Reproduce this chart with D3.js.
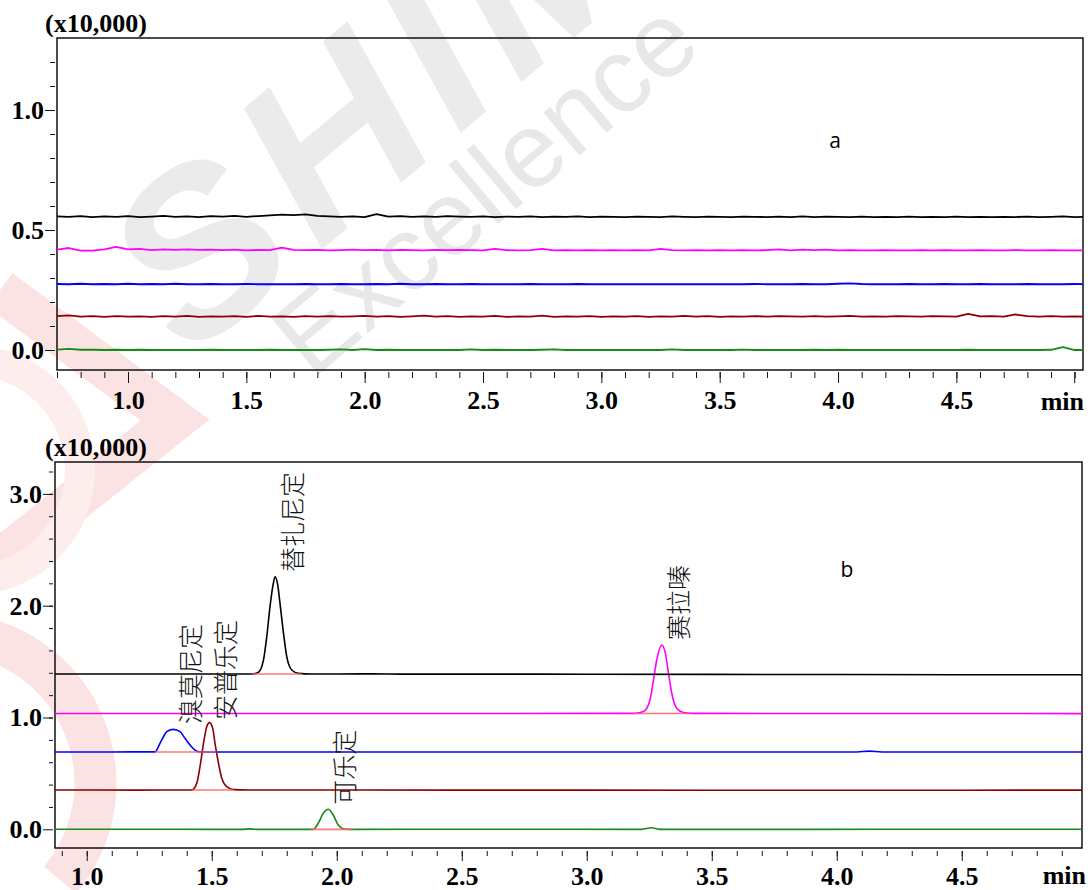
<!DOCTYPE html>
<html>
<head>
<meta charset="utf-8">
<script src="https://cdn.jsdelivr.net/npm/d3@7"></script>
<style>
  body { margin: 0; background: #fff; }
  svg { display: block; }
</style>
</head>
<body>
<svg id="chart" width="1090" height="890"></svg>
<script>
const svg = d3.select("#chart");

// ---- data (intensity in x10,000, time in min) ----
// colours from bottom trace to top trace
const traceColors = ["#178a17", "#8b0000", "#0000ff", "#ff00ff", "#000000"];

// panel a: blank runs, read every 0.05 min
const timesA = [0.70,0.75,0.80,0.85,0.90,0.95,1.00,1.05,1.10,1.15,
  1.20,1.25,1.30,1.35,1.40,1.45,1.50,1.55,1.60,1.65,
  1.70,1.75,1.80,1.85,1.90,1.95,2.00,2.05,2.10,2.15,
  2.20,2.25,2.30,2.35,2.40,2.45,2.50,2.55,2.60,2.65,
  2.70,2.75,2.80,2.85,2.90,2.95,3.00,3.05,3.10,3.15,
  3.20,3.25,3.30,3.35,3.40,3.45,3.50,3.55,3.60,3.65,
  3.70,3.75,3.80,3.85,3.90,3.95,4.00,4.05,4.10,4.15,
  4.20,4.25,4.30,4.35,4.40,4.45,4.50,4.55,4.60,4.65,
  4.70,4.75,4.80,4.85,4.90,4.95,5.00,5.05];

const greenA = [.002,.005,.001,.001,.000,.001,.000,.001,.000,.000,
  .000,.000,.000,.001,.000,.000,.000,.000,.001,.000,
  .000,.000,.000,.001,.003,.000,.004,.000,.001,.000,
  .000,.000,.000,.000,.000,.003,.000,.001,.000,.000,
  .000,.001,.003,.000,.000,.000,.000,.000,.000,.000,
  .000,.000,.003,.000,.000,.000,.000,.000,.002,.000,
  .000,.000,.000,.000,.001,.000,.001,.000,.000,.000,
  .000,.000,.000,.000,.000,.000,.000,.001,.000,.000,
  .000,.000,.000,.000,.001,.012,.000,.000];

const darkRedA = [.141,.144,.139,.141,.138,.141,.139,.140,.138,.141,
  .139,.142,.138,.140,.139,.141,.138,.142,.139,.140,
  .138,.141,.139,.141,.139,.140,.142,.139,.141,.138,
  .140,.143,.139,.141,.138,.140,.139,.142,.138,.140,
  .139,.143,.138,.140,.139,.141,.138,.140,.139,.141,
  .138,.140,.139,.142,.139,.141,.138,.140,.139,.141,
  .139,.141,.140,.139,.141,.139,.140,.142,.139,.140,
  .139,.141,.140,.139,.141,.140,.139,.151,.140,.141,
  .139,.148,.141,.139,.141,.139,.140,.139];

const blueA = [.275,.274,.276,.274,.275,.274,.276,.274,.275,.274,
  .276,.274,.274,.275,.274,.274,.275,.274,.274,.274,
  .274,.275,.274,.274,.275,.274,.274,.275,.274,.276,
  .274,.274,.275,.274,.274,.275,.274,.274,.274,.274,
  .275,.274,.274,.274,.275,.274,.274,.274,.274,.274,
  .274,.274,.274,.274,.274,.274,.274,.274,.274,.275,
  .274,.274,.274,.275,.274,.274,.276,.278,.275,.274,
  .274,.274,.275,.274,.274,.275,.274,.274,.275,.274,
  .274,.274,.275,.274,.274,.274,.275,.274];

const magentaA = [.418,.425,.414,.414,.419,.430,.419,.421,.416,.419,
  .417,.419,.417,.418,.416,.418,.415,.417,.416,.427,
  .417,.416,.417,.415,.416,.418,.416,.417,.415,.417,
  .416,.415,.417,.416,.417,.416,.415,.421,.416,.415,
  .416,.421,.415,.416,.415,.416,.415,.416,.415,.416,
  .415,.421,.416,.415,.416,.415,.416,.415,.416,.415,
  .416,.419,.415,.418,.416,.418,.415,.416,.415,.415,
  .416,.415,.415,.416,.415,.416,.415,.415,.416,.415,
  .415,.416,.415,.415,.416,.415,.415,.415];

const blackA = [.557,.555,.558,.554,.557,.555,.558,.554,.556,.559,
  .555,.557,.554,.558,.556,.559,.555,.558,.561,.564,
  .562,.565,.559,.557,.555,.557,.554,.566,.556,.558,
  .555,.557,.555,.558,.556,.555,.557,.554,.556,.555,
  .557,.554,.556,.555,.557,.554,.556,.555,.554,.556,
  .555,.554,.557,.555,.554,.556,.555,.554,.556,.555,
  .554,.556,.554,.557,.554,.556,.555,.554,.556,.554,
  .555,.554,.556,.554,.555,.554,.556,.554,.555,.554,
  .555,.554,.556,.554,.555,.557,.554,.555];

// panel b: standards, [time, intensity]
const greenB = [[0.85,0.000],[1.20,0.001],[1.50,0.000],[1.62,0.000],[1.65,0.004],[1.68,0.000],
  [1.906,0.000],[1.926,0.054],[1.946,0.143],[1.966,0.179],[1.986,0.128],[2.006,0.038],
  [2.026,0.005],[2.053,0.000],[2.60,0.001],[3.22,0.000],[3.258,0.014],[3.29,0.000],
  [3.90,0.000],[4.50,0.001],[5.00,0.000]];

const darkRedB = [[0.85,0.352],[1.20,0.351],[1.42,0.352],[1.44,0.411],[1.453,0.560],
  [1.467,0.769],[1.480,0.918],[1.491,0.954],[1.504,0.903],[1.513,0.769],[1.527,0.590],
  [1.540,0.456],[1.560,0.381],[1.587,0.355],[1.65,0.352],[2.50,0.351],[3.50,0.350],
  [4.50,0.350],[5.00,0.351]];

const blueB = [[0.85,0.691],[1.10,0.692],[1.273,0.693],[1.293,0.769],[1.307,0.828],
  [1.320,0.873],[1.347,0.894],[1.373,0.873],[1.393,0.814],[1.413,0.754],[1.433,0.709],
  [1.453,0.693],[1.50,0.691],[2.00,0.692],[2.50,0.691],[3.00,0.692],[3.50,0.691],
  [4.08,0.692],[4.13,0.699],[4.18,0.692],[5.00,0.691]];

const magentaB = [[0.85,1.036],[2.00,1.036],[3.193,1.037],[3.227,1.053],[3.253,1.157],
  [3.267,1.336],[3.280,1.515],[3.300,1.649],[3.313,1.589],[3.327,1.396],[3.340,1.217],
  [3.360,1.083],[3.387,1.044],[3.420,1.037],[4.00,1.036],[5.00,1.035]];

const blackB = [[0.85,1.389],[1.30,1.389],[1.66,1.389],[1.687,1.405],[1.707,1.515],
  [1.720,1.723],[1.733,1.991],[1.744,2.170],[1.753,2.259],[1.764,2.185],[1.773,2.021],
  [1.787,1.753],[1.800,1.544],[1.820,1.425],[1.847,1.395],[1.90,1.389],[2.10,1.390],
  [2.30,1.388],[2.60,1.388],[3.00,1.387],[4.00,1.384],[5.00,1.382]];

// integration baselines [start, end, level]
const integB = [[1.66,1.86,1.389],[1.273,1.52,0.691],[1.42,1.587,0.352],[3.185,3.413,1.036],[1.894,2.065,0.000]];

const peakNames = ["替扎尼定", "溴莫尼定", "安普乐定", "赛拉嗪", "可乐定"];
const peakLabelT = [1.815, 1.409, 1.549, 3.359, 2.025];
const peakLabelV = [2.301, 0.942, 0.978, 1.693, 0.219];

const xLabels = ["1.0", "1.5", "2.0", "2.5", "3.0", "3.5", "4.0", "4.5"];
const yLabelsA = ["0.0", "0.5", "1.0"];
const yLabelsB = ["0.0", "1.0", "2.0", "3.0"];

// ---- watermark ----
const wm = svg.append("g").attr("class", "watermark");
wm.append("rect").attr("width", 1090).attr("height", 890).attr("fill", "#fff");
wm.append("path")
    .attr("d", "M0,290 L175,420 L0,560 M-10,640 A150,150 0 0,1 60,880")
    .attr("fill", "none")
    .attr("stroke", "#fbe3e3")
    .attr("stroke-width", 42);
wm.append("circle")
    .attr("cx", -30).attr("cy", 470).attr("r", 110)
    .attr("fill", "none").attr("stroke", "#fdeded").attr("stroke-width", 30);
wm.append("text")
    .attr("transform", "translate(190,360) rotate(-40)")
    .attr("font-family", "Liberation Sans, Arial, sans-serif")
    .attr("font-weight", "bold")
    .attr("font-style", "italic")
    .attr("font-size", 230)
    .attr("letter-spacing", 15)
    .attr("fill", "#ebebeb")
    .text("SHIMADZU");
wm.append("text")
    .attr("transform", "translate(312,380) rotate(-40)")
    .attr("font-family", "Liberation Sans, Arial, sans-serif")
    .attr("font-size", 106)
    .attr("fill", "#e8e8e8")
    .text("Excellence");

// ---- panels ----
const tickFont = "Liberation Serif, Times New Roman, serif";

function drawPanel(p) {
    const x = d3.scaleLinear().domain(p.xDomain).range([p.left, p.right]);
    const y = d3.scaleLinear().domain(p.yDomain).range([p.bottom, p.top]);
    const g = svg.append("g");

    const clipId = "clip-" + p.name;
    g.append("clipPath").attr("id", clipId)
      .append("rect")
        .attr("x", p.left).attr("y", p.top)
        .attr("width", p.right - p.left).attr("height", p.bottom - p.top);

    // x ticks
    const xMinor = d3.range(p.xMinorFrom, p.xMinorTo + 1).map(d => d / 10);
    const xAxisMinor = d3.axisBottom(x).tickValues(xMinor).tickSize(p.xMinorLen).tickFormat("");
    const xAxisMajor = d3.axisBottom(x)
        .tickValues(xLabels.map(Number))
        .tickSize(p.xMajorLen)
        .tickPadding(p.xPad)
        .tickFormat(d => d.toFixed(1));
    [xAxisMinor, xAxisMajor].forEach(ax => {
        const ga = g.append("g").attr("transform", `translate(0,${p.bottom + p.gap})`).call(ax);
        ga.select(".domain").remove();
        ga.selectAll("line").attr("stroke", "#111").attr("stroke-width", 1);
        ga.selectAll("text")
            .attr("font-family", tickFont).attr("font-weight", "bold")
            .attr("font-size", 26).attr("fill", "#000");
    });
    if (p.extraMajor) {
        g.append("line")
            .attr("x1", x(p.extraMajor)).attr("x2", x(p.extraMajor))
            .attr("y1", p.bottom + p.gap).attr("y2", p.bottom + p.gap + p.xMajorLen)
            .attr("stroke", "#111");
    }
    g.append("text")
        .attr("x", p.minX).attr("y", p.minY)
        .attr("text-anchor", "end")
        .attr("font-family", tickFont).attr("font-weight", "bold").attr("font-size", 26)
        .text("min");

    // y ticks
    const yAxisMinor = d3.axisLeft(y).tickValues(p.yMinor).tickSize(p.yMinorLen).tickFormat("");
    const yAxisMajor = d3.axisLeft(y)
        .tickValues(p.yLabels.map(Number))
        .tickSize(10)
        .tickPadding(1)
        .tickFormat(d => d.toFixed(1));
    [yAxisMinor, yAxisMajor].forEach(ax => {
        const ga = g.append("g").attr("transform", `translate(${p.left - 2},0)`).call(ax);
        ga.select(".domain").remove();
        ga.selectAll("line").attr("stroke", "#111").attr("stroke-width", 1);
        ga.selectAll("text")
            .attr("font-family", tickFont).attr("font-weight", "bold")
            .attr("font-size", 26).attr("fill", "#000");
    });
    g.append("text")
        .attr("x", 45).attr("y", p.top - 6)
        .attr("font-family", tickFont).attr("font-weight", "bold").attr("font-size", 26)
        .text("(x10,000)");

    // frame
    g.append("rect")
        .attr("x", p.left).attr("y", p.top)
        .attr("width", p.right - p.left).attr("height", p.bottom - p.top)
        .attr("fill", "none").attr("stroke", "#111").attr("stroke-width", 1.5);

    // traces
    const line = d3.line()
        .curve(p.curve)
        .x(d => x(d[0]))
        .y(d => y(d[1]));
    const plot = g.append("g").attr("clip-path", `url(#${clipId})`);
    plot.selectAll(".trace")
        .data(p.series)
        .enter()
        .append("path")
        .attr("class", "trace")
        .attr("d", line)
        .attr("fill", "none")
        .attr("stroke", (d, i) => traceColors[i])
        .attr("stroke-width", p.lineWidth)
        .attr("stroke-linejoin", "round");

    g.append("text")
        .attr("x", p.tagX).attr("y", p.tagY)
        .attr("text-anchor", "middle")
        .attr("font-family", "Open Sans, DejaVu Sans, sans-serif")
        .attr("font-size", 21)
        .text(p.tag);

    return { x, y, g, plot };
}

const panelA = drawPanel({
    name: "a", tag: "a", tagX: 835, tagY: 148,
    left: 57, right: 1083, top: 38, bottom: 370,
    xDomain: [0.70, 5.035], yDomain: [-0.0833, 1.3],
    xMinorFrom: 7, xMinorTo: 50, xMinorLen: 6, xMajorLen: 11, xPad: 8, gap: 2,
    extraMajor: 5.0,
    minX: 1084, minY: 410,
    yMinor: d3.range(1, 13).map(d => d / 10), yMinorLen: 5, yLabels: yLabelsA,
    curve: d3.curveLinear, lineWidth: 1.8,
    series: [greenA, darkRedA, blueA, magentaA, blackA].map(vals => vals.map((v, i) => [timesA[i], v]))
});

const panelB = drawPanel({
    name: "b", tag: "b", tagX: 847, tagY: 577,
    left: 55, right: 1082, top: 462, bottom: 848,
    xDomain: [0.873, 4.981], yDomain: [-0.167, 3.285],
    xMinorFrom: 9, xMinorTo: 49, xMinorLen: 5, xMajorLen: 10, xPad: 6, gap: 3,
    extraMajor: null,
    minX: 1086, minY: 884,
    yMinor: d3.range(1, 17).map(d => d / 5), yMinorLen: 4, yLabels: yLabelsB,
    curve: d3.curveMonotoneX, lineWidth: 1.6,
    series: [greenB, darkRedB, blueB, magentaB, blackB]
});

// integration baselines
panelB.plot.selectAll(".integ")
    .data(integB)
    .enter()
    .append("line")
    .attr("class", "integ")
    .attr("x1", d => panelB.x(d[0]))
    .attr("x2", d => panelB.x(d[1]))
    .attr("y1", d => panelB.y(d[2]))
    .attr("y2", d => panelB.y(d[2]))
    .attr("stroke", "#ff6060")
    .attr("stroke-opacity", 0.85)
    .attr("stroke-width", 1.6);

// peak names, vertical
panelB.g.selectAll(".peak-label")
    .data(peakNames)
    .enter()
    .append("text")
    .attr("class", "peak-label")
    .attr("transform", (d, i) => `translate(${panelB.x(peakLabelT[i])},${panelB.y(peakLabelV[i])}) rotate(-90)`)
    .attr("dominant-baseline", "central")
    .attr("font-family", "Noto Sans CJK SC, sans-serif")
    .attr("font-weight", 300)
    .attr("font-size", 25)
    .attr("fill", "#111")
    .text(d => d);
</script>
</body>
</html>
